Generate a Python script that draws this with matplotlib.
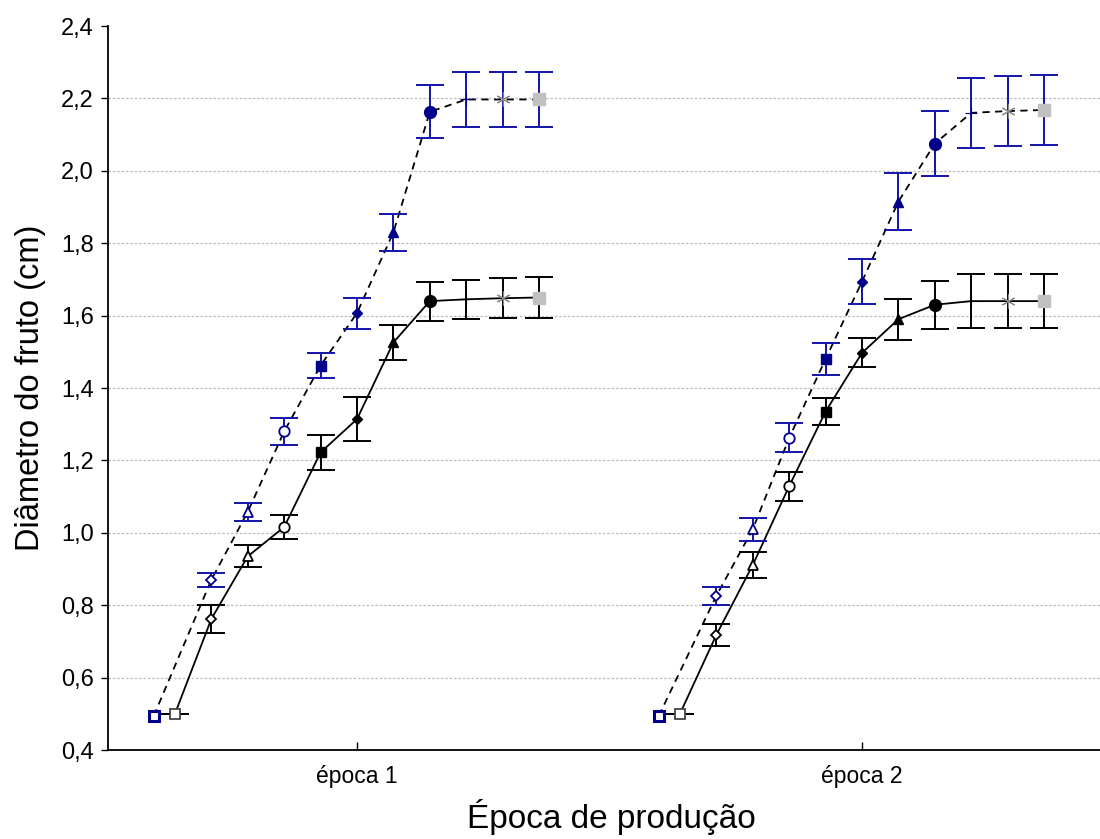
import numpy as np
import matplotlib
matplotlib.use("Agg")
import matplotlib.pyplot as plt

# ---------------- data ----------------
groups = ["época 1", "época 2"]
# 11 sampling times per season
black_e1 = [0.50, 0.762, 0.935, 1.016, 1.222, 1.314, 1.526, 1.640, 1.645, 1.648, 1.650]
black_e1_err = [0.0, 0.038, 0.030, 0.033, 0.048, 0.060, 0.048, 0.054, 0.054, 0.056, 0.056]
blue_e1 = [0.494, 0.870, 1.058, 1.280, 1.462, 1.607, 1.830, 2.163, 2.197, 2.197, 2.197]
blue_e1_err = [np.nan, 0.020, 0.025, 0.038, 0.035, 0.043, 0.052, 0.073, 0.076, 0.076, 0.076]

black_e2 = [0.50, 0.718, 0.911, 1.129, 1.335, 1.497, 1.590, 1.630, 1.640, 1.640, 1.640]
black_e2_err = [0.0, 0.030, 0.035, 0.040, 0.038, 0.040, 0.057, 0.066, 0.075, 0.075, 0.075]
blue_e2 = [0.494, 0.826, 1.010, 1.262, 1.480, 1.694, 1.915, 2.075, 2.160, 2.165, 2.168]
blue_e2_err = [np.nan, 0.025, 0.032, 0.040, 0.045, 0.061, 0.079, 0.089, 0.096, 0.097, 0.097]

yticks = [0.4, 0.6, 0.8, 1.0, 1.2, 1.4, 1.6, 1.8, 2.0, 2.2, 2.4]

# ---------------- style ----------------
plt.rcParams['font.family'] = ['Liberation Sans', 'DejaVu Sans']

BLUE_M = "#00008B"
BLUE_E = "#1414A8"
GRAY = "#C0C0C0"

markers = ["s", "D", "^", "o", "s", "D", "^", "o", "+", "*", "s"]
fills = ["open", "open", "open", "open", "fill", "fill", "fill", "fill", "plus", "star", "gray"]
msizes = [7.5, 5.5, 7, 7.5, 7, 5.5, 7.5, 8.5, 9, 10, 8]

fig = plt.figure(figsize=(11, 8.39), dpi=100)
ax = fig.add_axes([108/1100, 1-750/839, 1-108/1100, (750-26)/839])

step = 0.0721
offsets = (np.arange(11) - 5) * step
blue_offsets = offsets.copy()
blue_offsets[0] -= 0.042

def draw(center, vals, errs, offs, color_m, color_e, ls):
    x = center + offs
    ax.plot(x, vals, color="black", ls=ls, lw=1.3, zorder=2,
            dashes=(4, 3) if ls == "--" else (None, None))
    ax.errorbar(x, vals, yerr=errs, fmt="none", ecolor=color_e, elinewidth=1.4,
                capsize=10, capthick=1.4, zorder=3)
    for i in range(11):
        kind = fills[i]
        kw = dict(marker=markers[i], markersize=msizes[i], ls="none", zorder=4)
        if kind == "open":
            kw.update(markerfacecolor="white", markeredgecolor=color_m, markeredgewidth=1.3)
            if i == 0 and color_m == BLUE_M:
                kw.update(markeredgewidth=2.2)
            if i == 0 and color_m == "black":
                kw.update(markeredgecolor="#444444")
        elif kind == "fill":
            kw.update(markerfacecolor=color_m, markeredgecolor=color_m, markeredgewidth=1)
        elif kind == "plus":
            kw.update(markeredgecolor=color_m, markeredgewidth=0.8)
        elif kind == "star":
            kw.update(marker=(6, 2, 0), markeredgecolor="#888888", markeredgewidth=0.8,
                      markerfacecolor="none")
        else:
            kw.update(markerfacecolor=GRAY, markeredgecolor=GRAY)
        ax.plot([x[i]], [vals[i]], **kw)

for c, (bk, bke, bl, ble) in zip([0, 1], [(black_e1, black_e1_err, blue_e1, blue_e1_err),
                                          (black_e2, black_e2_err, blue_e2, blue_e2_err)]):
    draw(c, bl, ble, blue_offsets, BLUE_M, BLUE_E, "--")
    draw(c, bk, bke, offsets, "black", "black", "-")

ax.set_xlim((108-357)/505, (1100-357)/505)
ax.set_ylim(0.4, 2.4)
ax.set_yticks(yticks)
ax.set_yticklabels([f"{v:.1f}".replace(".", ",") for v in yticks], fontsize=17)
ax.set_xticks([0, 1])
ax.set_xticklabels(groups, fontsize=16.5)
ax.tick_params(axis="y", direction="out", length=5, width=1, pad=5)
ax.tick_params(axis="x", direction="in", length=6, width=1, pad=11)

for yv in yticks[1:-1]:
    ax.axhline(yv, color="#BBBBBB", lw=0.9, ls=(0, (2, 1.5)), zorder=0)

ax.spines["top"].set_visible(False)
ax.spines["right"].set_visible(False)
ax.spines["left"].set_linewidth(1.3)
ax.spines["bottom"].set_linewidth(1.3)

ax.set_ylabel("Diâmetro do fruto (cm)", fontsize=23.5)
ax.yaxis.set_label_coords(-0.062, 0.5)
ax.set_xlabel("Época de produção", fontsize=24)
ax.xaxis.set_label_coords(0.507, -0.068)

fig.savefig("out.png", dpi=100)
